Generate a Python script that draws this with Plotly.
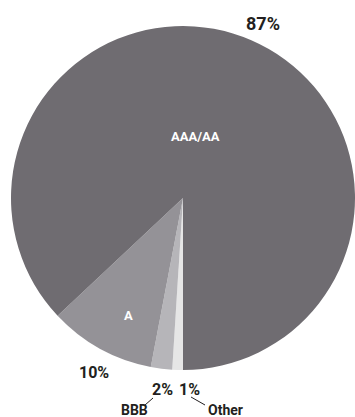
import plotly.graph_objects as go

# Credit quality breakdown
ratings = ["AAA/AA", "A", "BBB", "Other"]
shares = [87, 10, 2, 1]
pct_labels = ["87%", "10%", "2%", "1%"]
colors = ["#6f6c71", "#949297", "#b6b5b9", "#e6e6e6"]

W, H = 355, 417
FONT = "Roboto, Liberation Sans Narrow, sans-serif"
INK = "#231f20"


def px(x, y):
    return x / W, 1 - y / H


# slices run clockwise from 6 o'clock: Other, BBB, A, then AAA/AA around the rest
fig = go.Figure(
    go.Pie(
        labels=ratings[::-1],
        values=shares[::-1],
        sort=False,
        direction="clockwise",
        rotation=180,
        marker=dict(colors=colors[::-1], line=dict(width=0)),
        textinfo="none",
        hoverinfo="label+percent",
        showlegend=False,
        domain=dict(x=[11 / W, 1.0], y=[1 - 371 / H, 1 - 25 / H]),
    )
)

ann = []
# slice names inside the pie
for name, (x, y), size in zip(ratings[:2], [(195, 137), (128, 315)], [13, 13]):
    ax, ay = px(x, y)
    ann.append(dict(x=ax, y=ay, text=f"<b>{name}</b>", font=dict(size=size, color="white", family=FONT)))
# percentage labels outside
for pct, (x, y), size in zip(pct_labels, [(263, 24), (94, 372), (162, 389), (190, 389)], [18, 16, 16, 16]):
    ax, ay = px(x, y)
    ann.append(dict(x=ax, y=ay, text=f"<b>{pct}</b>", font=dict(size=size, color=INK, family=FONT)))
# callout names for the thin slices
for name, (x, y) in zip(ratings[2:], [(134, 410), (225, 410)]):
    ax, ay = px(x, y)
    ann.append(dict(x=ax, y=ay, text=f"<b>{name}</b>", font=dict(size=14, color=INK, family=FONT)))

for a in ann:
    a.update(xref="paper", yref="paper", showarrow=False, xanchor="center", yanchor="middle")

shapes = []
for (x0, y0, x1, y1) in [(145, 405, 153, 398), (191, 397, 205, 405)]:
    a0, b0 = px(x0, y0)
    a1, b1 = px(x1, y1)
    shapes.append(dict(type="line", xref="paper", yref="paper", x0=a0, y0=b0, x1=a1, y1=b1,
                       line=dict(color=INK, width=1)))

fig.update_layout(
    width=W,
    height=H,
    margin=dict(l=0, r=0, t=0, b=0),
    paper_bgcolor="white",
    plot_bgcolor="white",
    annotations=ann,
    shapes=shapes,
)

fig.write_html("out.html")
